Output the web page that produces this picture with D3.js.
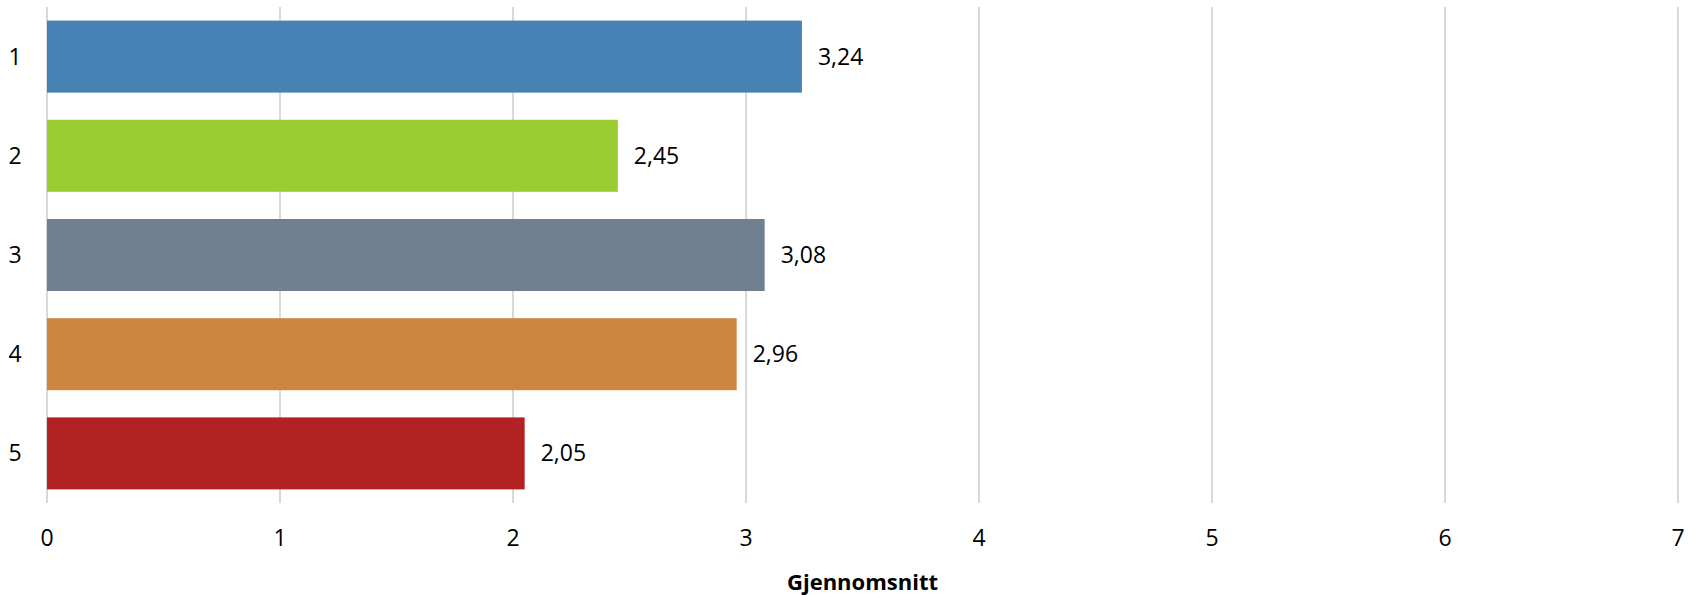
<!DOCTYPE html>
<html><head><meta charset="utf-8">
<script src="https://cdn.jsdelivr.net/npm/d3@7"></script>
<style>body{margin:0;background:#fff}svg{display:block}text{font-family:"Open Sans",Calibri,sans-serif}</style>
</head><body><svg id="c" width="1698" height="595"></svg>
<script>
const categories = ["1","2","3","4","5"];
const values = [3.24, 2.45, 3.08, 2.96, 2.05];
const colors = ["#4682B4","#9ACD32","#708090","#CD853F","#B22222"];
const xTicks = [0,1,2,3,4,5,6,7];
const axisTitle = "Gjennomsnitt";

const svg = d3.select("#c");
const m = {left:47, right:20, top:7, bottom:92};
const W = 1698, H = 595;
const x = d3.scaleLinear().domain([0,7]).range([m.left, W - m.right]);
const y = d3.scaleBand().domain(categories).range([m.top, H - m.bottom]).paddingInner(0.274).paddingOuter(0.137);
const fmt = v => d3.format(".2f")(v).replace(".", ",");

svg.append("g").selectAll("line").data(xTicks).join("line")
  .attr("x1", d => x(d)).attr("x2", d => x(d))
  .attr("y1", m.top).attr("y2", H - m.bottom)
  .attr("stroke", "#d9d9d9").attr("stroke-width", 2);

svg.append("g").selectAll("rect").data(values).join("rect")
  .attr("x", x(0)).attr("y", (d,i) => y(categories[i]))
  .attr("width", d => x(d) - x(0)).attr("height", y.bandwidth())
  .attr("fill", (d,i) => colors[i]);

svg.append("g").selectAll("text").data(values).join("text")
  .attr("x", d => x(d) + 16).attr("y", (d,i) => y(categories[i]) + y.bandwidth()/2)
  .attr("dy", "0.35em").attr("font-size", 23).attr("fill", "#000")
  .text(d => fmt(d));

svg.append("g").selectAll("text").data(categories).join("text")
  .attr("x", 15).attr("y", d => y(d) + y.bandwidth()/2)
  .attr("dy", "0.35em").attr("text-anchor", "middle").attr("font-size", 23)
  .text(d => d);

svg.append("g").selectAll("text").data(xTicks).join("text")
  .attr("x", d => x(d)).attr("y", 538).attr("dy", "0.35em")
  .attr("text-anchor", "middle").attr("font-size", 23).text(d => d);

svg.append("text").attr("x", (x(0)+x(7))/2).attr("y", 582).attr("dy", "0.35em")
  .attr("text-anchor", "middle").attr("font-size", 22).attr("font-weight", "bold")
  .text(axisTitle);
</script></body></html>
